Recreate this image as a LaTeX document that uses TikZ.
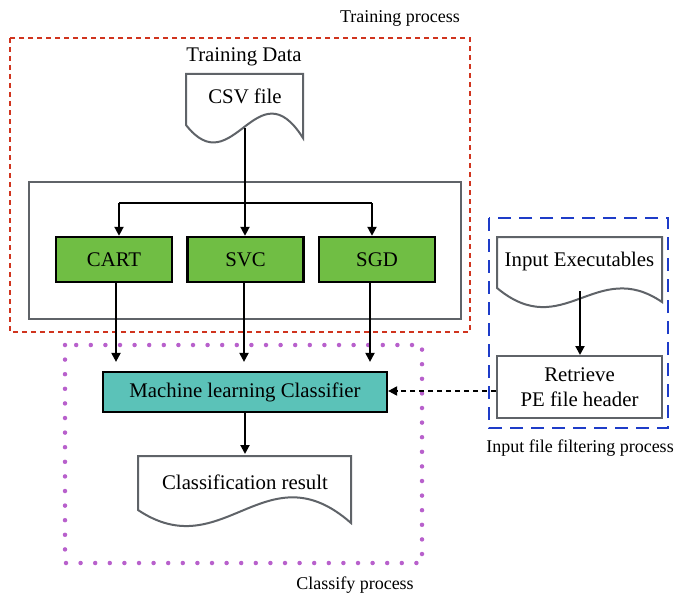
\documentclass[tikz,border=0pt]{standalone}
\usepackage{fontspec}
\setmainfont{Liberation Serif}
\usetikzlibrary{arrows.meta}
\definecolor{boxgreen}{RGB}{112,190,68}
\definecolor{boxteal}{RGB}{91,194,184}
\definecolor{docgray}{RGB}{95,99,104}
\definecolor{trainred}{RGB}{208,52,30}
\definecolor{classpurple}{RGB}{184,96,204}
\definecolor{filterblue}{RGB}{30,60,200}
\tikzset{
  maintext/.style={font=\fontsize{20.8}{25}\selectfont},
  labeltext/.style={font=\fontsize{18}{22}\selectfont},
  algbox/.style={draw=black, line width=2.4pt, fill=boxgreen, minimum width=116pt, minimum height=45pt, inner sep=0pt, maintext},
  clsbox/.style={draw=black, line width=2.2pt, fill=boxteal, minimum width=284pt, minimum height=40pt, inner sep=0pt, maintext},
  plainbox/.style={draw=docgray, line width=2pt, fill=white, inner sep=0pt, maintext, align=center},
  docline/.style={draw=docgray, line width=2pt, fill=white},
  flow/.style={draw=black, line width=2pt, -{Triangle[length=9pt,width=9pt]}},
  flowline/.style={draw=black, line width=2pt},
  dflow/.style={draw=black, line width=2pt, dash pattern=on 5pt off 4pt, -{Triangle[length=9pt,width=9pt]}},
  trainframe/.style={draw=trainred, line width=2pt, dash pattern=on 5pt off 4pt},
  classframe/.style={draw=classpurple, line width=4.5pt, line cap=round, dash pattern=on 0pt off 14.6pt},
  filterframe/.style={draw=filterblue, line width=2.2pt, dash pattern=on 13pt off 8pt},
}
\begin{document}
\begin{tikzpicture}[x=1pt, y=-1pt]
\useasboundingbox (0,0) rectangle (675,594);

% frames
\draw[trainframe] (10,38) rectangle (470,332);
\draw[classframe] (65,345) rectangle (422,563);
\draw[filterframe] (489,218) rectangle (668,428);
\node[labeltext] (trainlbl) at (400,18) {Training process};
\node[labeltext] (classlbl) at (355,585) {Classify process};
\node[labeltext] (filterlbl) at (580,448) {Input file filtering process};

% training data
\node[maintext] (tdata) at (244,57) {Training Data};
\draw[docline] (186,125) -- (186,74) -- (303,74) -- (303,138)
  .. controls (256.8,65) and (232.8,185) .. (186,125) -- cycle;
\node[maintext] (csv) at (245,96) {CSV file};
\coordinate (csvout) at (245,128);

% algorithm group
\draw[draw=docgray, line width=2pt] (29,182) rectangle (461,319);
\node[algbox] (cart) at (114,259.5) {CART};
\node[algbox] (svc) at (245.5,259.5) {SVC};
\node[algbox] (sgd) at (377,259.5) {SGD};

\coordinate (brl) at (119,203);
\coordinate (brr) at (372,203);
\draw[flowline] (brl) -- (brr);
\draw[flow] (brl) -- (brl |- cart.north);
\draw[flow] (brr) -- (brr |- sgd.north);
\draw[flow] (csvout) -- (csvout |- svc.north);

% classifier
\node[clsbox] (clf) at (245,392) {Machine learning Classifier};
\coordinate (c1) at (116,0);
\coordinate (c2) at (244,0);
\coordinate (c3) at (370,0);
\draw[flow, shorten >=9pt] (c1 |- cart.south) -- (c1 |- clf.north);
\draw[flow, shorten >=9pt] (c2 |- svc.south) -- (c2 |- clf.north);
\draw[flow, shorten >=9pt] (c3 |- sgd.south) -- (c3 |- clf.north);

% classification result
\draw[docline] (138,510) -- (138,456) -- (351,456) -- (351,523)
  .. controls (265.8,448) and (223.2,567) .. (138,510) -- cycle;
\node[maintext] (result) at (245,482) {Classification result};
\coordinate (resin) at (245,454);
\draw[flow] (clf.south) -- (resin);

% input executables
\draw[docline] (497,288) -- (497,237) -- (662,237) -- (662,302)
  .. controls (596,257) and (563,343) .. (497,288) -- cycle;
\node[maintext] (inexe) at (579.5,261) {Input Executables};
\coordinate (exeout) at (580,291);
\node[plainbox, minimum width=165pt, minimum height=62pt] (pe) at (579.5,387) {Retrieve\\PE file header};
\draw[flow] (exeout) -- (exeout |- pe.north);

\draw[dflow] (pe.west |- 0,391) -- (clf.east |- 0,391);
\end{tikzpicture}
\end{document}
